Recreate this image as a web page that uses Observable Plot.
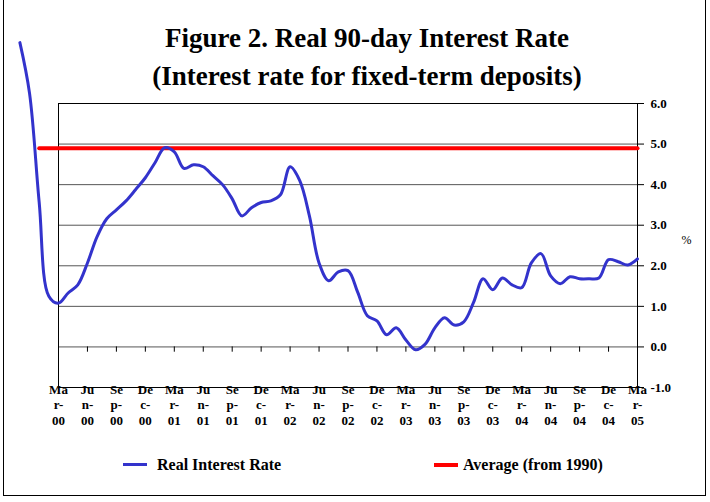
<!DOCTYPE html>
<html>
<head>
<meta charset="utf-8">
<script src="https://cdn.jsdelivr.net/npm/d3@7"></script>
<script src="https://cdn.jsdelivr.net/npm/@observablehq/plot@0.6"></script>
<style>
  html, body { margin: 0; padding: 0; background: #fff; overflow: hidden; }
  #wrap { position: relative; width: 710px; height: 502px; font-family: "Liberation Serif", "Times New Roman", serif; color: #000; }
  #border { position: absolute; left: 3px; top: -5px; width: 703px; height: 501px; border: 1px solid #000; box-sizing: border-box; }
  #title { position: absolute; left: 0; top: 19px; width: 734px; text-align: center; font-weight: bold; font-size: 27px; line-height: 38px; }
  #chart { position: absolute; left: 0; top: 95px; }
  #chart svg { font-family: "Liberation Serif", "Times New Roman", serif !important; font-size: 13px !important; }
  #chart svg g[aria-label="x-axis tick label"], #chart svg g[aria-label="y-axis tick label"] { font-family: "Liberation Serif", serif !important; font-size: 13px !important; font-weight: bold !important; }
  #chart svg text { font-family: "Liberation Serif", serif !important; }
  .sw { position: absolute; width: 24px; }
  .lg { position: absolute; font-weight: bold; font-size: 16px; line-height: 20px; white-space: nowrap; }
</style>
</head>
<body>
<div id="wrap">
  <div id="border"></div>
  <div id="title">Figure 2. Real 90-day Interest Rate<br>(Interest rate for fixed-term deposits)</div>
  <div id="chart"></div>
  <div class="sw" style="left:123px; top:463px; height:3px; background:#3333cc;"></div>
  <div class="lg" style="left:157px; top:455px;">Real Interest Rate</div>
  <div class="sw" style="left:434px; top:463px; height:4px; background:#ff0000;"></div>
  <div class="lg" style="left:463px; top:455px;">Average (from 1990)</div>
</div>
<script>
// Monthly observations, Nov-99 .. Mar-05
const months = [
  "Nov-99","Dec-99","Jan-00","Feb-00",
  "Mar-00","Apr-00","May-00","Jun-00","Jul-00","Aug-00","Sep-00","Oct-00","Nov-00","Dec-00","Jan-01","Feb-01",
  "Mar-01","Apr-01","May-01","Jun-01","Jul-01","Aug-01","Sep-01","Oct-01","Nov-01","Dec-01","Jan-02","Feb-02",
  "Mar-02","Apr-02","May-02","Jun-02","Jul-02","Aug-02","Sep-02","Oct-02","Nov-02","Dec-02","Jan-03","Feb-03",
  "Mar-03","Apr-03","May-03","Jun-03","Jul-03","Aug-03","Sep-03","Oct-03","Nov-03","Dec-03","Jan-04","Feb-04",
  "Mar-04","Apr-04","May-04","Jun-04","Jul-04","Aug-04","Sep-04","Oct-04","Nov-04","Dec-04","Jan-05","Feb-05",
  "Mar-05"
];
const realRate = [
  7.5, 6.25, 3.56, 1.25,
  1.08, 1.33, 1.53, 2.07, 2.72, 3.16, 3.38, 3.6, 3.88, 4.17, 4.54, 4.91,
  4.81, 4.4, 4.49, 4.44, 4.22, 4.0, 3.65, 3.23, 3.43, 3.56, 3.6, 3.75,
  4.44, 4.1, 3.23, 2.07, 1.63, 1.85, 1.88, 1.35, 0.77, 0.64, 0.3, 0.47,
  0.17, -0.07, 0.07, 0.47, 0.72, 0.54, 0.62, 1.09, 1.68, 1.41, 1.7, 1.53,
  1.46, 2.07, 2.3, 1.75, 1.56, 1.73, 1.68, 1.68, 1.7, 2.15, 2.1, 2.02,
  2.17
];
const averageRate = [
  null, null, 4.9, 4.9,
  4.9, 4.9, 4.9, 4.9, 4.9, 4.9, 4.9, 4.9, 4.9, 4.9, 4.9, 4.9,
  4.9, 4.9, 4.9, 4.9, 4.9, 4.9, 4.9, 4.9, 4.9, 4.9, 4.9, 4.9,
  4.9, 4.9, 4.9, 4.9, 4.9, 4.9, 4.9, 4.9, 4.9, 4.9, 4.9, 4.9,
  4.9, 4.9, 4.9, 4.9, 4.9, 4.9, 4.9, 4.9, 4.9, 4.9, 4.9, 4.9,
  4.9, 4.9, 4.9, 4.9, 4.9, 4.9, 4.9, 4.9, 4.9, 4.9, 4.9, 4.9,
  4.9
];
const tickLabels = [
  "Mar-00","Jun-00","Sep-00","Dec-00","Mar-01","Jun-01","Sep-01","Dec-01",
  "Mar-02","Jun-02","Sep-02","Dec-02","Mar-03","Jun-03","Sep-03","Dec-03",
  "Mar-04","Jun-04","Sep-04","Dec-04","Mar-05"
];
const yTicks = [-1, 0, 1, 2, 3, 4, 5, 6];

const firstAxisMonth = months.indexOf("Mar-00");
const pos = (label) => months.indexOf(label) - firstAxisMonth;
const rows = months.map((m, i) => ({month: m, t: pos(m), real: realRate[i], avg: averageRate[i]}));
const tickPos = tickLabels.map(pos);
const labelAt = new Map(tickLabels.map(l => [pos(l), l]));
const wrapLabel = (t) => { const s = labelAt.get(t); return s.slice(0, 2) + "\n" + s.slice(2, 4) + "\n" + s.slice(4); };

const serif = "Liberation Serif, Times New Roman, serif";
const chart = Plot.plot({
  width: 710,
  height: 345,
  marginTop: 8,
  marginRight: 73,
  marginBottom: 53,
  marginLeft: 58,
  style: {overflow: "visible", background: "transparent"},
  x: {type: "linear", domain: [0, pos("Mar-05")]},
  y: {domain: [-1, 6]},
  marks: [
    Plot.ruleY(yTicks, {stroke: "#555", strokeWidth: 1}),
    Plot.frame({stroke: "#000"}),
    Plot.ruleX(tickPos, {y1: 0, y2: -0.13, stroke: "#000"}),
    Plot.axisY(yTicks, {anchor: "right", tickSize: 6, tickPadding: 7, tickFormat: d => d.toFixed(1),
      fontSize: 13, fontWeight: "bold", fontFamily: serif, label: null}),
    Plot.axisX(tickPos, {anchor: "bottom", tickSize: 0, tickPadding: 0, dy: -5, tickFormat: wrapLabel,
      fontSize: 13, fontWeight: "bold", fontFamily: serif, lineHeight: 1.2, label: null}),
    Plot.text(["%"], {frameAnchor: "right", dx: 49, dy: -5, fontSize: 12, fontFamily: serif, textAnchor: "middle"}),
    Plot.line(rows, {x: "t", y: "avg", stroke: "#ff0000", strokeWidth: 4}),
    Plot.line(rows, {x: "t", y: "real", stroke: "#3333cc", strokeWidth: 3, curve: "catmull-rom"})
  ]
});
document.getElementById("chart").appendChild(chart);
</script>
</body>
</html>
